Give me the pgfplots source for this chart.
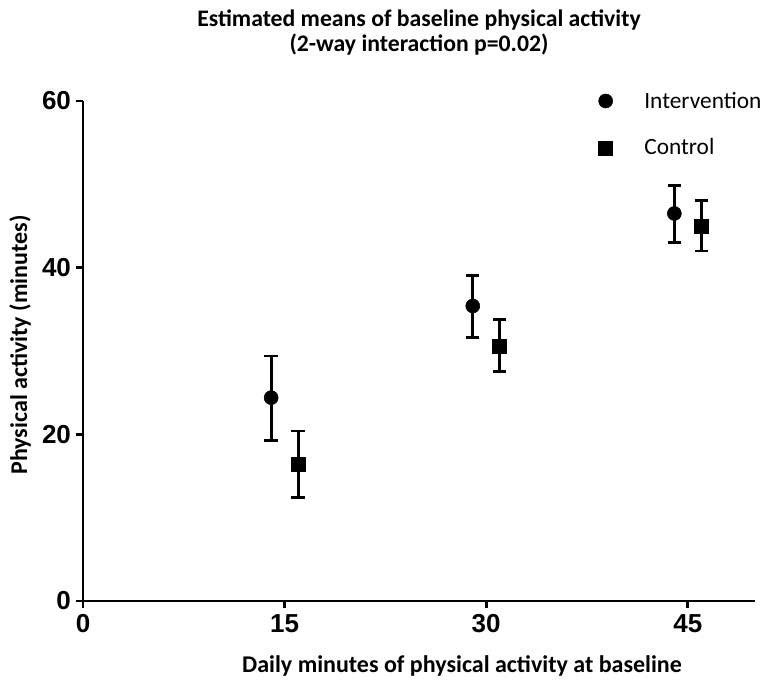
\documentclass[border=0pt]{standalone}
\usepackage{fontspec}
\usepackage{pgfplots}
\pgfplotsset{compat=1.18}
\newfontfamily\carlito{Carlito}
\newfontfamily\arialf{Liberation Sans}
\begin{document}
\begin{tikzpicture}
\path[use as bounding box] (-62.25pt,-62.25pt) rectangle (513pt,450.75pt);
\begin{axis}[
  scale only axis,
  width=504pt, height=375pt,
  xmin=0, xmax=50, ymin=0, ymax=60,
  axis x line=bottom, axis y line=left,
  axis line style={-, line width=2.2pt},
  xtick={0,15,30,45}, ytick={0,20,40,60},
  minor tick num=0,
  tick align=outside, major tick length=5.5pt,
  tick style={line width=2.2pt, black},
  /pgf/number format/assume math mode=true,
  tick label style={font=\arialf\bfseries\fontsize{19.5}{19.5}\selectfont},
  xticklabel style={yshift=-1pt},
  xlabel={Daily minutes of physical activity at baseline},
  ylabel={Physical activity (minutes)},
  label style={font=\carlito\bfseries\fontsize{18}{20}\selectfont},
  xlabel style={at={(axis description cs:0.564,-0.13)}, anchor=center},
  ylabel style={at={(axis description cs:-0.0937,0.512)}, anchor=center},
  title={Estimated means of baseline physical activity\\(2-way interaction p=0.02)},
  title style={at={(rel axis cs:0.5,1)}, anchor=center, yshift=45pt, align=center,
    font=\carlito\bfseries\fontsize{17.8}{18.75}\selectfont},
  legend style={draw=none, fill=none, at={(rel axis cs:0.767,1.024)}, anchor=north west,
    font=\carlito\fontsize{17.5}{20}\selectfont, row sep=17.5pt, inner sep=0pt},
  legend cell align=left,
  legend image code/.code={\path[draw=none] (-5pt,0pt) -- (27pt,0pt);\draw[mark repeat=2,mark phase=2,#1] plot coordinates {(-1pt,0pt) (0pt,0pt) (1pt,0pt)};},
  clip=false,
]
\addplot+[only marks, black, mark=*, mark size=5.25pt, mark options={fill=black, draw=black},
  error bars/.cd, y dir=both, y explicit,
  error bar style={line width=2.2pt, black},
  error mark options={rotate=90, mark size=5pt, line width=2.2pt, black}]
  coordinates {
  (14,24.4) += (0,5.0) -= (0,5.1)
  (29,35.4) += (0,3.7) -= (0,3.8)
  (44,46.5) += (0,3.4) -= (0,3.5)
  };
\addlegendentry{Intervention}
\addplot+[only marks, black, mark=square*, mark size=5.25pt, mark options={fill=black, draw=black},
  error bars/.cd, y dir=both, y explicit,
  error bar style={line width=2.2pt, black},
  error mark options={rotate=90, mark size=5pt, line width=2.2pt, black}]
  coordinates {
  (16,16.4) += (0,4.0) -= (0,4.0)
  (31,30.6) += (0,3.2) -= (0,3.1)
  (46,45.0) += (0,3.1) -= (0,3.0)
  };
\addlegendentry{Control}
\end{axis}
\end{tikzpicture}
\end{document}
